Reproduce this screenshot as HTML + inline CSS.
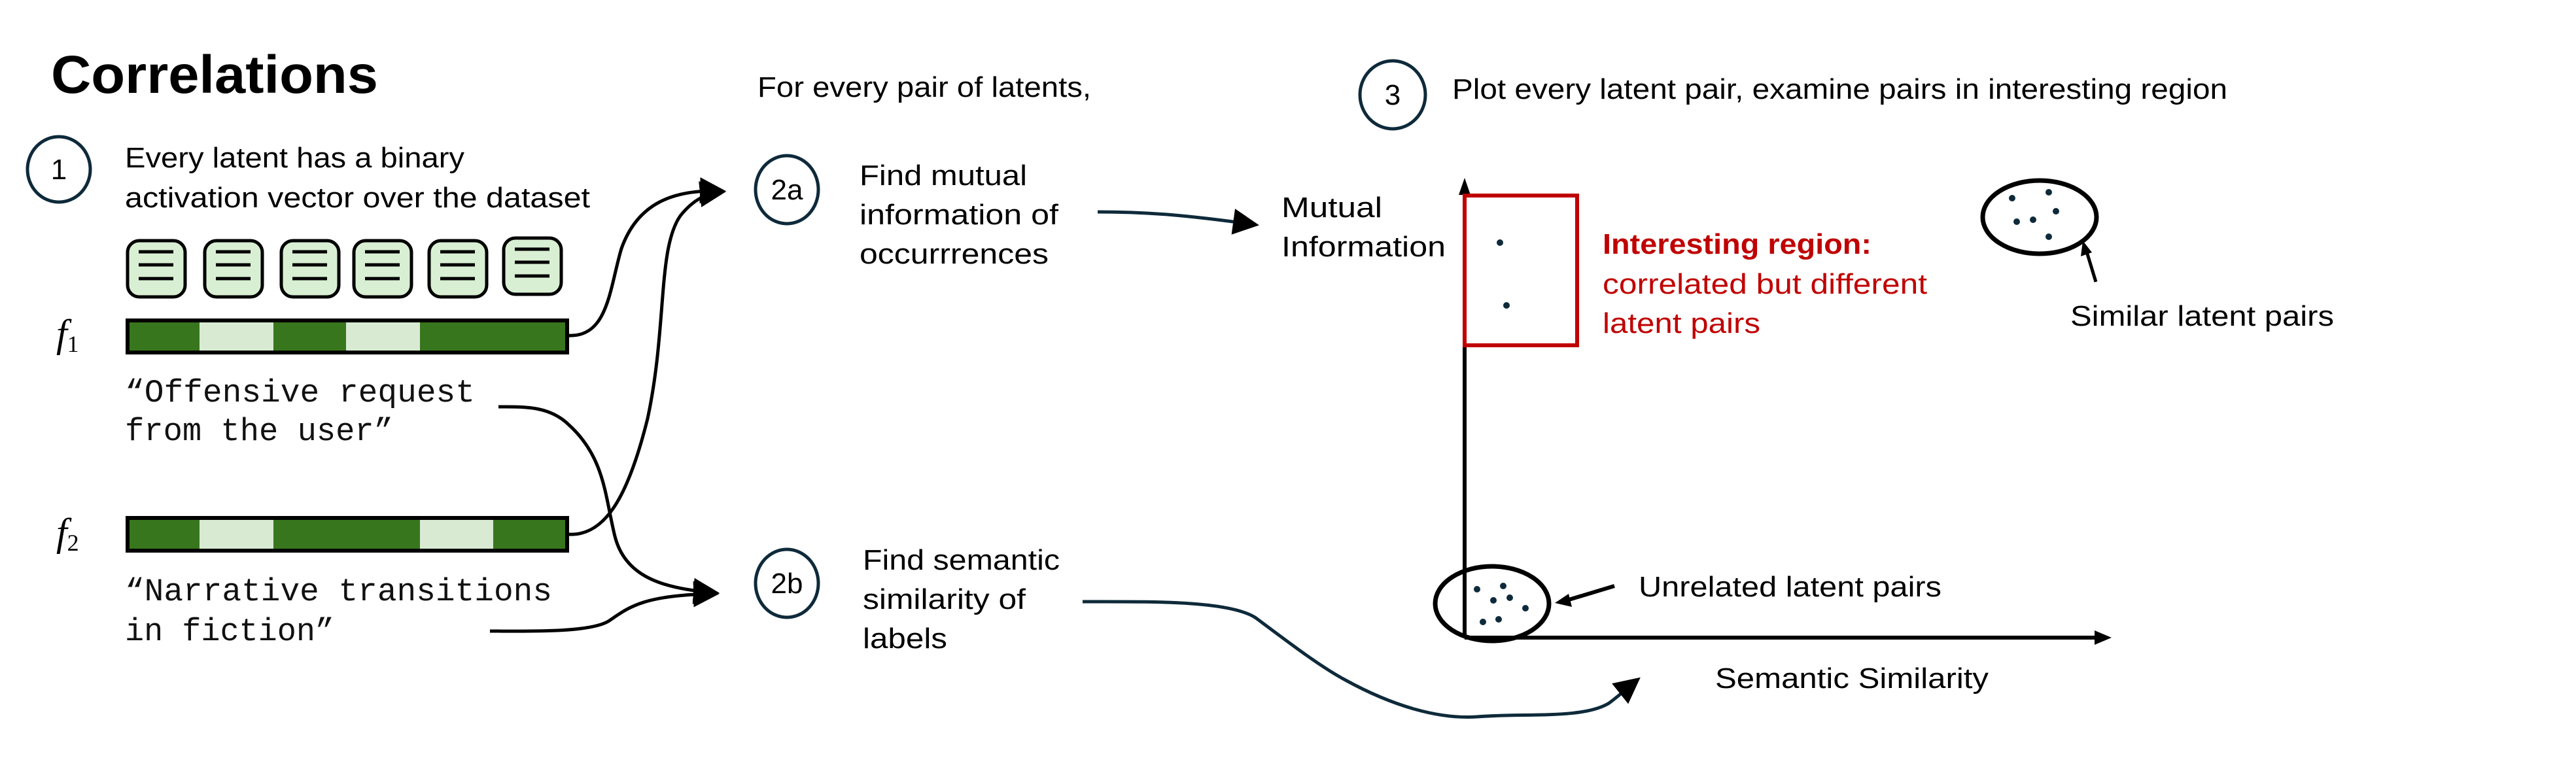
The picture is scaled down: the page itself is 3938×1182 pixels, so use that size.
<!DOCTYPE html>
<html><head><meta charset="utf-8"><style>
html,body{margin:0;padding:0;background:#fff;}
svg{display:block;}
text{font-family:"Liberation Sans",sans-serif;font-size:44px;fill:#000;}
.m{font-family:"Liberation Mono",monospace;font-size:49px;fill:#111;}
</style></head><body>
<svg width="3938" height="1182" viewBox="0 0 3938 1182" xmlns="http://www.w3.org/2000/svg">
<defs>
<marker id="ah" markerWidth="8" markerHeight="8" refX="6" refY="4" orient="auto" markerUnits="strokeWidth">
<path d="M0,0 L8,4 L0,8 Z" fill="#000"/></marker>
<marker id="ahn" markerWidth="8" markerHeight="8" refX="6" refY="4" orient="auto" markerUnits="strokeWidth">
<path d="M0,0 L8,4 L0,8 Z" fill="#000"/></marker>
</defs>

<text x="78" y="142" style="font-size:82px;font-weight:bold" textLength="500" lengthAdjust="spacingAndGlyphs">Correlations</text>
<text x="1158" y="148" textLength="510" lengthAdjust="spacingAndGlyphs">For every pair of latents,</text>

<ellipse cx="90" cy="259" rx="48" ry="50" fill="none" stroke="#0e2a3a" stroke-width="5"/>
<text x="90" y="274" text-anchor="middle">1</text>
<text x="191" y="256" textLength="519" lengthAdjust="spacingAndGlyphs">Every latent has a binary</text>
<text x="191" y="317" textLength="711" lengthAdjust="spacingAndGlyphs">activation vector over the dataset</text>

<g fill="#d9efd3" stroke="#000" stroke-width="5">
<rect x="195" y="368" width="88" height="86" rx="18"/>
<rect x="313" y="368" width="88" height="86" rx="18"/>
<rect x="430" y="368" width="88" height="86" rx="18"/>
<rect x="541" y="368" width="88" height="86" rx="18"/>
<rect x="656" y="368" width="88" height="86" rx="18"/>
<rect x="770" y="364" width="88" height="86" rx="18"/>
</g>
<g stroke="#000" stroke-width="5">
<path d="M212 385h53M212 405h53M212 426h53"/>
<path d="M330 385h53M330 405h53M330 426h53"/>
<path d="M447 385h53M447 405h53M447 426h53"/>
<path d="M558 385h53M558 405h53M558 426h53"/>
<path d="M673 385h53M673 405h53M673 426h53"/>
<path d="M787 381h53M787 401h53M787 422h53"/>
</g>

<g>
<rect x="195" y="490" width="110" height="49" fill="#38761d"/>
<rect x="305" y="490" width="113" height="49" fill="#d9ead3"/>
<rect x="418" y="490" width="111" height="49" fill="#38761d"/>
<rect x="529" y="490" width="113" height="49" fill="#d9ead3"/>
<rect x="642" y="490" width="225" height="49" fill="#38761d"/>
<rect x="195" y="490" width="672" height="49" fill="none" stroke="#000" stroke-width="6"/>
</g>
<text x="86" y="530" style="font-family:'Liberation Serif',serif;font-style:italic;font-size:60px">f<tspan style="font-size:36px;font-style:normal" dy="8">1</tspan></text>

<text class="m" x="191" y="614" textLength="535" lengthAdjust="spacingAndGlyphs">“Offensive request</text>
<text class="m" x="191" y="673" textLength="410" lengthAdjust="spacingAndGlyphs">from the user”</text>

<g>
<rect x="195" y="792" width="110" height="50" fill="#38761d"/>
<rect x="305" y="792" width="113" height="50" fill="#d9ead3"/>
<rect x="418" y="792" width="224" height="50" fill="#38761d"/>
<rect x="642" y="792" width="112" height="50" fill="#d9ead3"/>
<rect x="754" y="792" width="113" height="50" fill="#38761d"/>
<rect x="195" y="792" width="672" height="50" fill="none" stroke="#000" stroke-width="6"/>
</g>
<text x="86" y="834" style="font-family:'Liberation Serif',serif;font-style:italic;font-size:60px">f<tspan style="font-size:36px;font-style:normal" dy="8">2</tspan></text>

<text class="m" x="191" y="918" textLength="653" lengthAdjust="spacingAndGlyphs">“Narrative transitions</text>
<text class="m" x="191" y="979" textLength="320" lengthAdjust="spacingAndGlyphs">in fiction”</text>

<g fill="none" stroke="#000" stroke-width="5">
<path d="M869 513 C930 516 932 440 950 380 C975 310 1030 290 1100 292" marker-end="url(#ah)"/>
<path d="M869 817 C925 820 960 760 990 640 C1020 500 1005 380 1040 330 C1060 305 1080 296 1100 294" marker-end="url(#ah)"/>
<path d="M762 622 C800 622 840 620 870 650 C925 700 925 760 940 820 C955 880 1010 900 1090 906" marker-end="url(#ah)"/>
<path d="M749 965 C800 965 900 968 930 950 C960 930 980 910 1090 908" marker-end="url(#ah)"/>
</g>

<ellipse cx="1203" cy="290" rx="48" ry="52" fill="none" stroke="#0e2a3a" stroke-width="5"/>
<text x="1203" y="305" text-anchor="middle">2a</text>
<text x="1314" y="283" textLength="256" lengthAdjust="spacingAndGlyphs">Find mutual</text>
<text x="1314" y="343" textLength="304" lengthAdjust="spacingAndGlyphs">information of</text>
<text x="1314" y="403" textLength="289" lengthAdjust="spacingAndGlyphs">occurrrences</text>

<ellipse cx="1203" cy="892" rx="48" ry="52" fill="none" stroke="#0e2a3a" stroke-width="5"/>
<text x="1203" y="907" text-anchor="middle">2b</text>
<text x="1319" y="871" textLength="301" lengthAdjust="spacingAndGlyphs">Find semantic</text>
<text x="1319" y="931" textLength="249" lengthAdjust="spacingAndGlyphs">similarity of</text>
<text x="1319" y="991" textLength="129" lengthAdjust="spacingAndGlyphs">labels</text>

<g fill="none" stroke="#0e2a3a" stroke-width="5">
<path d="M1678 324 C1760 324 1820 330 1915 343" marker-end="url(#ahn)"/>
<path d="M1655 920 C1760 920 1880 918 1920 945 C1980 990 2020 1020 2057 1040 C2130 1080 2200 1100 2258 1096 C2330 1090 2420 1100 2460 1075 C2480 1060 2490 1050 2500 1042" marker-end="url(#ahn)"/>
</g>

<text x="1959" y="332" textLength="154" lengthAdjust="spacingAndGlyphs">Mutual</text>
<text x="1959" y="392" textLength="251" lengthAdjust="spacingAndGlyphs">Information</text>

<ellipse cx="2129" cy="145" rx="50" ry="52" fill="none" stroke="#0e2a3a" stroke-width="5"/>
<text x="2129" y="160" text-anchor="middle">3</text>
<text x="2220" y="151" textLength="1185" lengthAdjust="spacingAndGlyphs">Plot every latent pair, examine pairs in interesting region</text>

<g stroke="#000" stroke-width="6" fill="none">
<path d="M2239 975 V295"/>
<path d="M2239 975 H3205"/>
</g>
<path d="M2239 272 L2230 298 L2248 298 Z" fill="#000"/>
<path d="M3228 975 L3202 964 L3202 986 Z" fill="#000"/>

<rect x="2239" y="299" width="172" height="229" fill="none" stroke="#c00000" stroke-width="6"/>
<circle cx="2293" cy="371" r="5" fill="#0e2a3a"/>
<circle cx="2303" cy="467" r="5" fill="#0e2a3a"/>

<text x="2450" y="388" style="fill:#c00000;font-weight:bold" textLength="411" lengthAdjust="spacingAndGlyphs">Interesting region:</text>
<text x="2450" y="449" style="fill:#c00000" textLength="496" lengthAdjust="spacingAndGlyphs">correlated but different</text>
<text x="2450" y="509" style="fill:#c00000" textLength="241" lengthAdjust="spacingAndGlyphs">latent pairs</text>

<ellipse cx="3118" cy="332" rx="87" ry="56" fill="none" stroke="#000" stroke-width="7"/>
<g fill="#0e2a3a">
<circle cx="3076" cy="303" r="5"/><circle cx="3132" cy="294" r="5"/><circle cx="3143" cy="323" r="5"/>
<circle cx="3083" cy="339" r="5"/><circle cx="3108" cy="336" r="5"/><circle cx="3132" cy="362" r="5"/>
</g>
<path d="M3204 431 L3190 385" stroke="#000" stroke-width="5"/>
<path d="M3184 368 L3181 392 L3198 386 Z" fill="#000"/>
<text x="3165" y="498" textLength="403" lengthAdjust="spacingAndGlyphs">Similar latent pairs</text>

<ellipse cx="2281" cy="923" rx="87" ry="57" fill="none" stroke="#000" stroke-width="7"/>
<g fill="#0e2a3a">
<circle cx="2258" cy="901" r="5"/><circle cx="2298" cy="896" r="5"/><circle cx="2283" cy="918" r="5"/>
<circle cx="2308" cy="914" r="5"/><circle cx="2332" cy="930" r="5"/><circle cx="2267" cy="951" r="5"/><circle cx="2291" cy="947" r="5"/>
</g>
<path d="M2468 896 L2395 918" stroke="#000" stroke-width="6"/>
<path d="M2377 922 L2398 908 L2403 928 Z" fill="#000"/>
<text x="2505" y="912" textLength="463" lengthAdjust="spacingAndGlyphs">Unrelated latent pairs</text>
<text x="2622" y="1052" textLength="418" lengthAdjust="spacingAndGlyphs">Semantic Similarity</text>
</svg>
</body></html>
